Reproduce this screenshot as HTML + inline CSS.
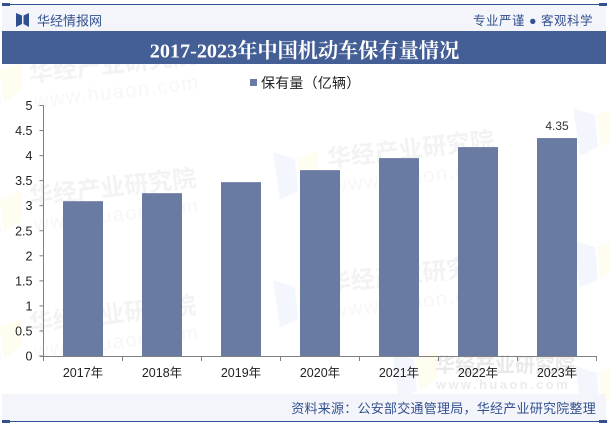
<!DOCTYPE html>
<html lang="zh">
<head>
<meta charset="utf-8">
<title>2017-2023年中国机动车保有量情况</title>
<style>
html,body{margin:0;padding:0;background:#fff;}
body{width:610px;height:424px;overflow:hidden;position:relative;font-family:"Liberation Sans","Noto Sans CJK SC",sans-serif;}
svg{position:absolute;left:0;top:0;}
text{font-family:"Liberation Sans","Noto Sans CJK SC",sans-serif;}
</style>
</head>
<body>
<svg id="chart" width="610" height="424" viewBox="0 0 610 424" xmlns="http://www.w3.org/2000/svg">
  <g id="watermarks"></g>
  <rect x="2" y="5" width="604" height="26" fill="#f3f5fa"/>
  <rect x="2" y="4" width="604" height="1" fill="#33508f"/>
  <rect x="2" y="3" width="8" height="3" fill="#33508f"/>
  <rect x="599" y="3" width="8" height="3" fill="#33508f"/>
  <path d="M16 13 L22 15.500 L22 24 L16 27 Z M29 13 L23.500 15.500 L23.500 24 L29 27 Z" fill="#2f4f8f"/>
  <text x="37" y="25.500" font-size="13" fill="#33508f">华经情报网</text>
  <text x="593" y="25" font-size="12.500" letter-spacing="0.500" text-anchor="end" fill="#33508f">专业严谨 ● 客观科学</text>
  <rect x="2" y="31" width="604" height="33" fill="#445f95"/>
  <text x="304.500" y="57.500" font-size="20.200" font-weight="700" text-anchor="middle" fill="#ffffff" style='font-family:"Liberation Serif","Noto Serif CJK SC",serif'>2017-2023年中国机动车保有量情况</text>
  <rect x="250" y="79" width="7" height="7" fill="#697ba2"/>
  <text x="261" y="88" font-size="14" letter-spacing="0.200" fill="#222222">保有量（亿辆）</text>
  <g id="bars"></g>
  <g id="axes"></g>
  <rect x="2" y="394" width="604" height="27" fill="#f3f5fa"/>
  <rect x="2" y="421" width="604" height="1" fill="#33508f"/>
  <rect x="2" y="420" width="8" height="3" fill="#33508f"/>
  <rect x="599" y="420" width="8" height="3" fill="#33508f"/>
  <text x="596" y="413" font-size="13" letter-spacing="0.250" text-anchor="end" fill="#33508f">资料来源：公安部交通管理局，华经产业研究院整理</text>
</svg>
<script>
var categories = ["2017年","2018年","2019年","2020年","2021年","2022年","2023年"];
var stockValues = [3.09,3.25,3.47,3.71,3.95,4.17,4.35];
var yTickLabels = ["0","0.5","1","1.5","2","2.5","3","3.5","4","4.5","5"];
var printedLabels = [null,null,null,null,null,null,"4.35"];

var NS = "http://www.w3.org/2000/svg";
var plotLeft = 43.5, plotRight = 596.5, plotBottom = 356, plotTop = 105.5, yMax = 5, barWidth = 40;
function yScale(v){ return plotBottom - (v / yMax) * (plotBottom - plotTop); }
function bandWidth(){ return (plotRight - plotLeft) / categories.length; }
function xCenter(i){ return plotLeft + bandWidth() * (i + 0.5); }
function make(tag, attrs, parent){
  var el = document.createElementNS(NS, tag);
  for (var k in attrs) el.setAttribute(k, attrs[k]);
  parent.appendChild(el);
  return el;
}

var barsG = document.getElementById("bars");
var axesG = document.getElementById("axes");
var wmG = document.getElementById("watermarks");

stockValues.forEach(function(v, i){
  var top = yScale(v);
  var bar = make("rect", {x: xCenter(i) - barWidth / 2, y: top, width: barWidth, height: plotBottom - top, fill: "#697ba2"}, barsG);
  
  
  if (printedLabels[i] !== null) {
    var lab = make("text", {x: xCenter(i), y: top - 8, "font-size": 12, "text-anchor": "middle", fill: "#333333"}, barsG);
    lab.textContent = printedLabels[i];
    
    
  }
});

var yAxis = make("line", {x1: plotLeft, x2: plotLeft, y1: plotTop, y2: plotBottom, stroke: "#808080", "stroke-width": 1}, axesG);


var xAxis = make("line", {x1: plotLeft - 4, x2: plotRight, y1: plotBottom + 0.5, y2: plotBottom + 0.5, stroke: "#808080", "stroke-width": 1}, axesG);



yTickLabels.forEach(function(t){
  var y = yScale(parseFloat(t));
  var tick = make("line", {x1: plotLeft - 4, x2: plotLeft, y1: y, y2: y, stroke: "#808080", "stroke-width": 1}, axesG);
  
  
  var lab = make("text", {x: plotLeft - 11, y: y + 4.5, "font-size": 12.5, "text-anchor": "end", fill: "#222222"}, axesG);
  lab.textContent = t;
  
  
});

for (var i = 0; i <= categories.length; i++) {
  var tx = plotLeft + bandWidth() * i;
  var tk = make("line", {x1: tx, x2: tx, y1: plotBottom, y2: plotBottom + 5, stroke: "#808080", "stroke-width": 1}, axesG);
  
  
}
categories.forEach(function(c, i){
  var lab = make("text", {x: xCenter(i), y: 377, "font-size": 12.500, "text-anchor": "middle", fill: "#222222"}, axesG);
  lab.textContent = c;
  
  
});

var wmLogoSpots = [[-24,64],[-24,193],[-24,320],[273,152],[273,280],[573,108],[573,240],[575,366],[392,352]];
wmLogoSpots.forEach(function(p){
  var lg = make("g", {}, wmG);
  
  
  make("path", {d: "M" + p[0] + " " + p[1] + " l22 7 l3 32 l-18 9 z", fill: "#f3f7fd"}, lg);
  make("path", {d: "M" + (p[0] + 24) + " " + (p[1] + 7) + " l21 -9 l0 30 l-18 11 z", fill: "#fffcf0"}, lg);
});

var wmSpots = [[30,82],[30,205],[30,332],[328,167],[328,292]];
wmSpots.forEach(function(p){
  var g = make("g", {transform: "rotate(-6.5 " + p[0] + " " + p[1] + ")"}, wmG);
  
  
  var a = make("text", {x: p[0], y: p[1], "font-size": 24, "font-weight": 700, fill: "#f3f3f3"}, g);
  a.textContent = "华经产业研究院";
  var b = make("text", {x: p[0] + 2, y: p[1] + 26, "font-size": 20, "letter-spacing": 1.500, fill: "#f7f7f7"}, g);
  b.textContent = "www.huaon.com";
});

var wmFlat = make("g", {}, wmG);


var wa = make("text", {x: 435, y: 372, "font-size": 20, "font-weight": 700, fill: "#e9e9e9"}, wmFlat);
wa.textContent = "华经产业研究院";
var wb = make("text", {x: 436, y: 389, "font-size": 13, "font-weight": 700, "letter-spacing": 2.400, fill: "#ececec"}, wmFlat);
wb.textContent = "www.huaon.com";
</script>
</body>
</html>
